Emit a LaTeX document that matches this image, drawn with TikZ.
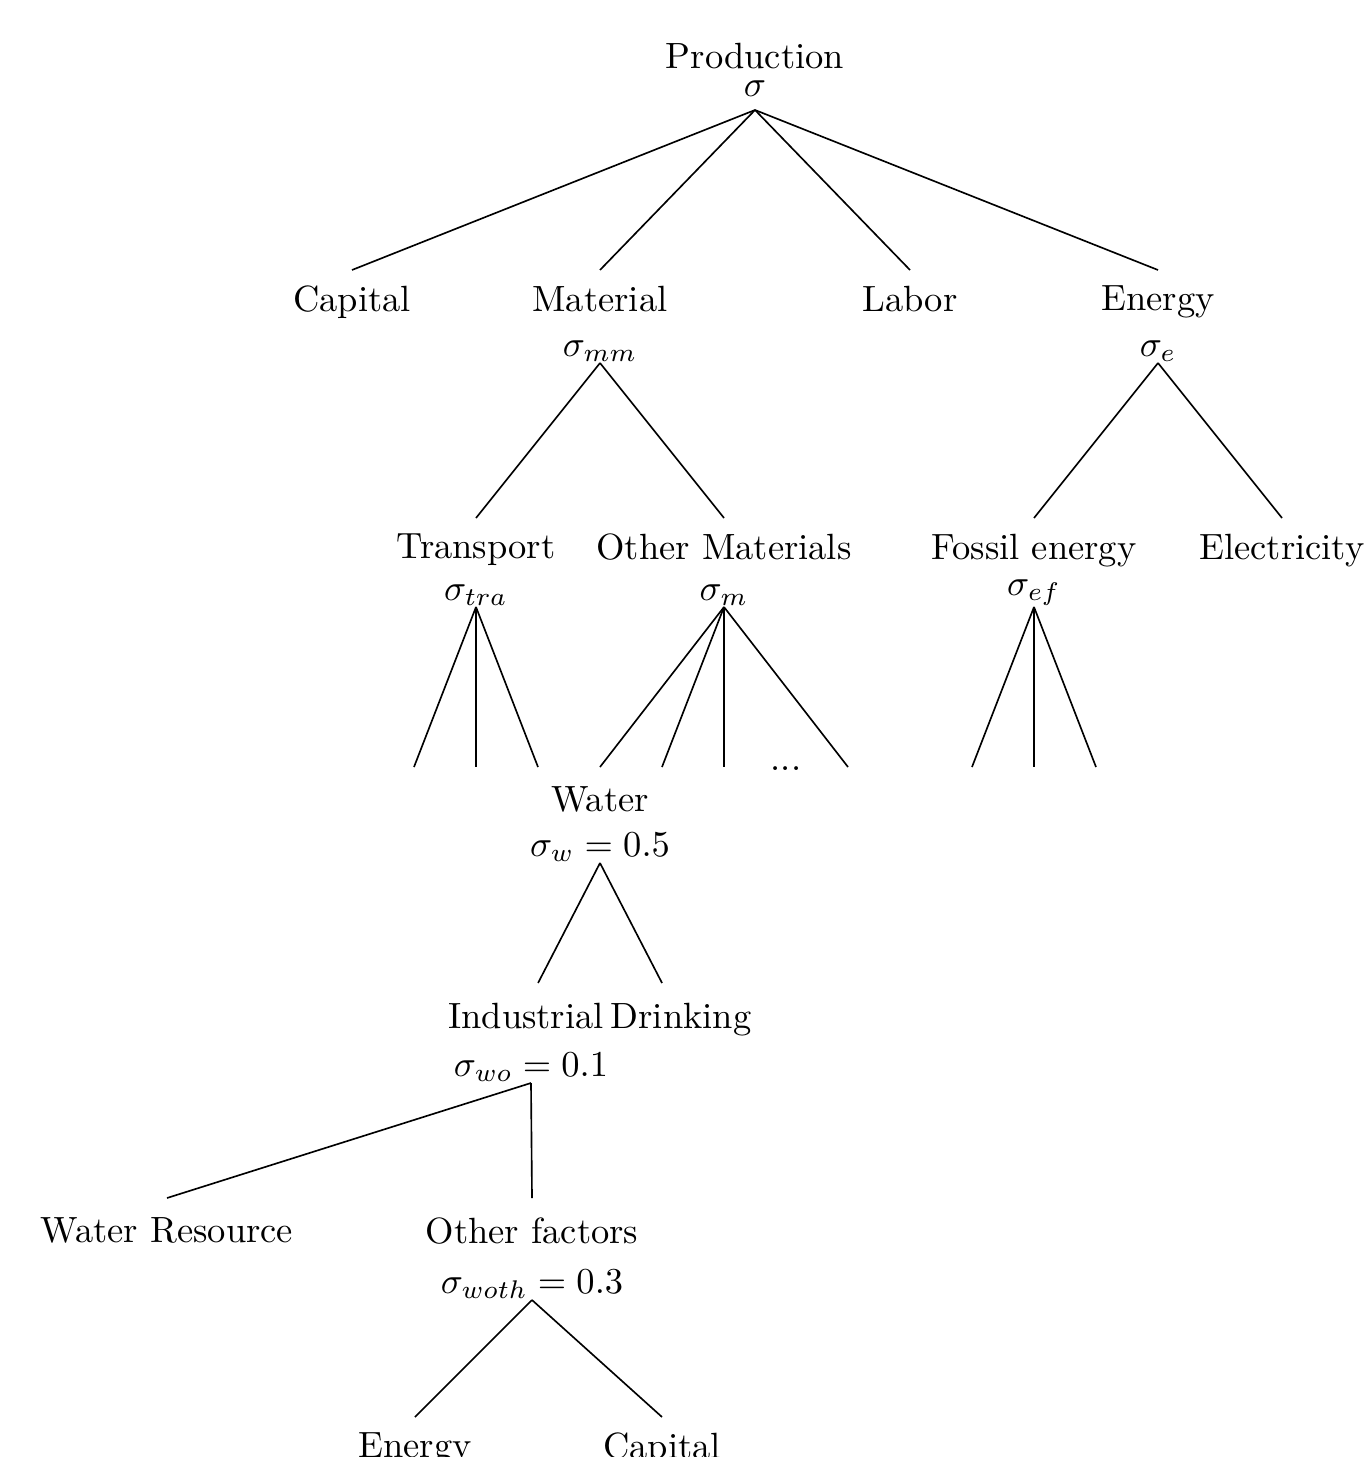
\documentclass[tikz,border=0pt]{standalone}
\usepackage{amsmath,amssymb}
\usepackage{tikz}

\begin{document}
\begin{tikzpicture}[x=0.274pt,y=-0.274pt, term/.style={anchor=north,inner xsep=2.7pt,inner ysep=4.2pt}, deep/.style={inner ysep=5.2pt}, elast/.style={anchor=south,inner xsep=0.5pt,inner ysep=0.2pt}, link/.style={line width=0.45pt}]
\useasboundingbox (0,0) rectangle (1369,1457);
% top level
\node[anchor=base] (prod) at (755,68) {Production};
\node[elast,inner ysep=3.5pt] (prodS) at (755,110) {$\sigma$};
\node[term] (cap) at (352,270) {Capital};
\node[term] (mat) at (600,270) {Material};
\node[elast] (matS) at (600,363) {$\sigma_{mm}$};
\node[term] (labor) at (910,270) {Labor};
\node[term] (ene) at (1158,270) {Energy};
\node[elast] (eneS) at (1158,363) {$\sigma_e$};
% second level
\node[term] (tra) at (476,518) {Transport};
\node[elast] (traS) at (476,607) {$\sigma_{tra}$};
\node[term] (oth) at (724,518) {Other Materials};
\node[elast] (othS) at (724,607) {$\sigma_m$};
\node[term] (fos) at (1034,518) {Fossil energy};
\node[elast] (fosS) at (1034,607) {$\sigma_{ef}$};
\node[term] (ele) at (1282,518) {Electricity};
% third level
\coordinate (tra1) at (414,767);
\coordinate (tra2) at (476,767);
\coordinate (tra3) at (538,767);
\coordinate (oth2) at (662,767);
\coordinate (oth3) at (724,767);
\coordinate (oth4) at (848,767);
\coordinate (fos1) at (972,767);
\coordinate (fos2) at (1034,767);
\coordinate (fos3) at (1096,767);
\node[anchor=base] (dots) at (786,770) {...};
\node[term,deep] (wat) at (600,767) {Water};
\node[elast] (watS) at (600,863) {$\sigma_w = 0.5$};
% water nest
\node[term,deep] (ind) at (526,983) {Industrial};
\node[elast] (indS) at (531,1083) {$\sigma_{wo} = 0.1$};
\node[term,deep] (dri) at (681,983) {Drinking};
\node[term,deep] (res) at (167,1198) {Water Resource};
\node[term,deep] (otf) at (532,1198) {Other factors};
\node[elast] (otfS) at (532,1300) {$\sigma_{woth} = 0.3$};
\node[term] (en2) at (415,1417) {Energy};
\node[term] (ca2) at (662,1417) {Capital};

\draw[link] (prodS.south) -- (cap.north);
\draw[link] (prodS.south) -- (mat.north);
\draw[link] (prodS.south) -- (labor.north);
\draw[link] (prodS.south) -- (ene.north);
\draw[link] (matS.south) -- (tra.north);
\draw[link] (matS.south) -- (oth.north);
\draw[link] (eneS.south) -- (fos.north);
\draw[link] (eneS.south) -- (ele.north);
\foreach \c in {tra1,tra2,tra3} \draw[link] (traS.south) -- (\c);
\draw[link] (othS.south) -- (wat.north);
\foreach \c in {oth2,oth3,oth4} \draw[link] (othS.south) -- (\c);
\foreach \c in {fos1,fos2,fos3} \draw[link] (fosS.south) -- (\c);
\draw[link] (watS.south) -- ([xshift=3.3pt]ind.north);
\draw[link] (watS.south) -- ([xshift=-5.2pt]dri.north);
\draw[link] (indS.south) -- (res.north);
\draw[link] (indS.south) -- (otf.north);
\draw[link] (otfS.south) -- (en2.north);
\draw[link] (otfS.south) -- (ca2.north);
\end{tikzpicture}
\end{document}
